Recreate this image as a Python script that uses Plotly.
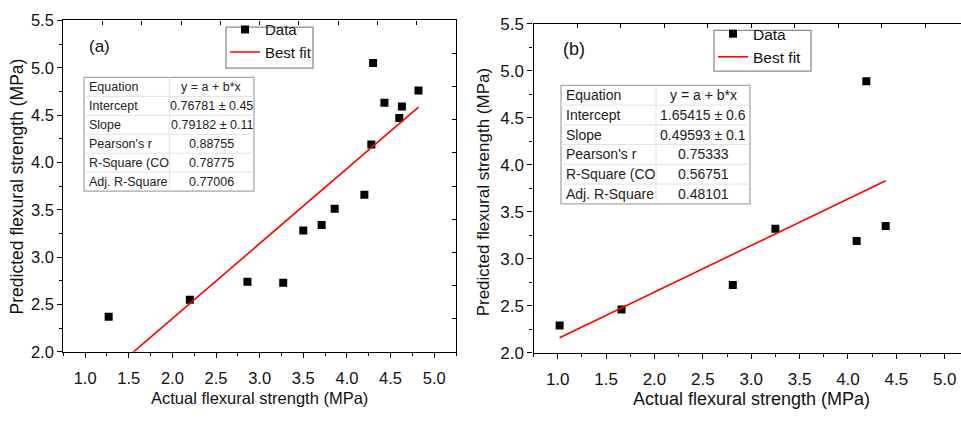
import plotly.graph_objects as go

# ---- data: panel (a) ----
actual_a = [1.27, 2.20, 2.86, 3.27, 3.50, 3.71, 3.86, 4.20, 4.28, 4.30, 4.43, 4.60, 4.63, 4.82]
pred_a = [2.37, 2.55, 2.74, 2.73, 3.28, 3.34, 3.51, 3.66, 4.19, 5.05, 4.63, 4.47, 4.59, 4.76]

# ---- data: panel (b) ----
actual_b = [1.02, 1.66, 2.81, 3.25, 4.09, 4.19, 4.39]
pred_b = [2.29, 2.46, 2.72, 3.32, 3.19, 4.89, 3.35]

# ---- linear fit statistics (y = a + b*x) ----
fit_rows = ["Equation", "Intercept", "Slope", "Pearson's r", "R-Square (CO", "Adj. R-Square"]
intercept_a, intercept_err_a = 0.76781, 0.45
slope_a, slope_err_a = 0.79182, 0.11
pearson_a, rsq_a, adj_rsq_a = 0.88755, 0.78775, 0.77006
intercept_b, intercept_err_b = 1.65415, 0.6
slope_b, slope_err_b = 0.49593, 0.1
pearson_b, rsq_b, adj_rsq_b = 0.75333, 0.56751, 0.48101

x_ticks = [1.0, 1.5, 2.0, 2.5, 3.0, 3.5, 4.0, 4.5, 5.0]
y_ticks = [2.0, 2.5, 3.0, 3.5, 4.0, 4.5, 5.0, 5.5]

W, H = 961, 421
FONT = "Liberation Sans, Arial, sans-serif"


def fx(p):
    return p / W


def fy(p):
    return 1 - p / H


def fit_values(a, ea, b, eb, r, r2, ar2):
    return ["y = a + b*x", f"{a:.5f} \u00b1 {ea:g}", f"{b:.5f} \u00b1 {eb:g}",
            f"{r:.5f}", f"{r2:.5f}", f"{ar2:.5f}"]


def fit_line(xs, a, b):
    x0, x1 = min(xs), max(xs)
    return [x0, x1], [a + b * x0, a + b * x1]


fig = go.Figure()

# panel (a) traces
fig.add_trace(go.Scatter(x=actual_a, y=pred_a, mode="markers", name="Data",
                         marker=dict(symbol="square", size=8, color="black"),
                         xaxis="x", yaxis="y", legend="legend"))
lx, ly = fit_line(actual_a, intercept_a, slope_a)
fig.add_trace(go.Scatter(x=lx, y=ly, mode="lines", name="Best fit",
                         line=dict(color="#ff0000", width=1.6),
                         xaxis="x", yaxis="y", legend="legend"))

# panel (b) traces
fig.add_trace(go.Scatter(x=actual_b, y=pred_b, mode="markers", name="Data",
                         marker=dict(symbol="square", size=8, color="black"),
                         xaxis="x2", yaxis="y2", legend="legend2"))
lx, ly = fit_line(actual_b, intercept_b, slope_b)
fig.add_trace(go.Scatter(x=lx, y=ly, mode="lines", name="Best fit",
                         line=dict(color="#ff0000", width=1.6),
                         xaxis="x2", yaxis="y2", legend="legend2"))

# empty traces so the frame axes (top / right) get drawn
for xa, ya in [("x3", "y"), ("x", "y3"), ("x4", "y2")]:
    fig.add_trace(go.Scatter(x=[], y=[], xaxis=xa, yaxis=ya, showlegend=False,
                             hoverinfo="skip"))

dom_a_x = [fx(63.3), fx(456)]
dom_a_y = [fy(359), fy(12)]
dom_b_x = [fx(533.5), 1.0]
dom_b_y = [fy(360), fy(15.7)]

x_full = [0.75, 5.25]
x_b_end = 0.75 + (W - 533.5) / 96.75
frame_b_end = 10 * (x_b_end - x_full[0]) / (x_full[1] - x_full[0])


def main_x(dom, rng, anchor, size):
    return dict(domain=dom, range=rng, anchor=anchor, tickvals=x_ticks,
                ticktext=[f"{v:.1f}" for v in x_ticks],
                ticks="outside", ticklen=5, tickwidth=1.2, tickcolor="black",
                ticklabelstandoff=6,
                minor=dict(ticks="outside", ticklen=3, tickwidth=1.2, tickcolor="black",
                           dtick=0.25, tick0=0),
                showline=True, linecolor="black", linewidth=1.3,
                showgrid=False, zeroline=False,
                tickfont=dict(family=FONT, size=size, color="#111"))


def main_y(dom, anchor, size):
    return dict(domain=dom, range=[2.0, 5.5], anchor=anchor, tickvals=y_ticks,
                ticktext=[f"{v:.1f}" for v in y_ticks],
                ticks="outside", ticklen=5, tickwidth=1.2, tickcolor="black",
                minor=dict(ticks="outside", ticklen=3, tickwidth=1.2, tickcolor="black",
                           dtick=0.25, tick0=0),
                showline=True, linecolor="black", linewidth=1.3,
                showgrid=False, zeroline=False,
                tickfont=dict(family=FONT, size=size, color="#111"))


def frame_axis(overlay, side, rng, anchor):
    return dict(overlaying=overlay, side=side, range=rng, anchor=anchor,
                tickvals=list(range(1, 10)), ticks="inside", ticklen=4,
                tickwidth=1.2, tickcolor="black", showticklabels=False,
                showline=True, linecolor="black", linewidth=1.3,
                showgrid=False, zeroline=False)


fig.update_layout(
    width=W, height=H,
    margin=dict(l=0, r=0, t=0, b=0),
    paper_bgcolor="white", plot_bgcolor="white",
    xaxis=main_x(dom_a_x, x_full, "y", 16.5),
    yaxis=main_y(dom_a_y, "x", 16.5),
    xaxis2=main_x(dom_b_x, [x_full[0], x_b_end], "y2", 17),
    yaxis2=main_y(dom_b_y, "x2", 17),
    xaxis3=frame_axis("x", "top", [0, 10], "y"),
    yaxis3=frame_axis("y", "right", [0, 10], "x"),
    xaxis4=frame_axis("x2", "top", [0, frame_b_end], "y2"),
    legend=dict(x=fx(225), y=fy(4.5), xanchor="left", yanchor="top",
                bgcolor="rgba(0,0,0,0)", borderwidth=0,
                font=dict(family=FONT, size=15, color="#111"),
                tracegroupgap=0),
    legend2=dict(x=fx(713), y=fy(8.5), xanchor="left", yanchor="top",
                 bgcolor="rgba(0,0,0,0)", borderwidth=0,
                 font=dict(family=FONT, size=15.5, color="#111"),
                 tracegroupgap=0),
    showlegend=True,
)

shapes = []
annotations = []

# legend frames
for l, r, t, b in [(226, 313, 19, 62), (714, 811, 22.3, 65)]:
    shapes.append(dict(type="rect", xref="paper", yref="paper",
                       x0=fx(l), x1=fx(r), y0=fy(b), y1=fy(t),
                       line=dict(color="#8c8c8c", width=1.3), fillcolor="white",
                       layer="above"))


def add_table(left, right, top, bottom, divider, values, size):
    n = len(fit_rows)
    rh = (bottom - top) / n
    shapes.append(dict(type="rect", xref="paper", yref="paper",
                       x0=fx(left), x1=fx(right), y0=fy(bottom), y1=fy(top),
                       line=dict(color="#a8a8a8", width=1.3), fillcolor="white",
                       layer="above"))
    for i in range(1, n):
        yy = fy(top + i * rh)
        shapes.append(dict(type="line", xref="paper", yref="paper",
                           x0=fx(left), x1=fx(right), y0=yy, y1=yy,
                           line=dict(color="#e2e2e2", width=1), layer="above"))
    shapes.append(dict(type="line", xref="paper", yref="paper",
                       x0=fx(divider), x1=fx(divider), y0=fy(bottom), y1=fy(top),
                       line=dict(color="#e2e2e2", width=1), layer="above"))
    for i, (lab, val) in enumerate(zip(fit_rows, values)):
        cy = fy(top + (i + 0.5) * rh)
        annotations.append(dict(xref="paper", yref="paper", x=fx(left + 2.5), y=cy,
                                xanchor="left", yanchor="middle", showarrow=False,
                                text=lab, font=dict(family=FONT, size=size, color="#222")))
        annotations.append(dict(xref="paper", yref="paper", x=fx((divider + right) / 2),
                                y=cy, xanchor="center", yanchor="middle",
                                showarrow=False, text=val,
                                font=dict(family=FONT, size=size, color="#222")))


add_table(84, 254, 71.7, 190.7, 169.3,
          fit_values(intercept_a, intercept_err_a, slope_a, slope_err_a,
                     pearson_a, rsq_a, adj_rsq_a), 12.5)
add_table(561, 750, 80, 204, 656,
          fit_values(intercept_b, intercept_err_b, slope_b, slope_err_b,
                     pearson_b, rsq_b, adj_rsq_b), 14)

# panel tags
annotations.append(dict(xref="paper", yref="paper", x=fx(99), y=fy(39), text="(a)",
                        showarrow=False, xanchor="center", yanchor="middle",
                        font=dict(family=FONT, size=17, color="#111")))
annotations.append(dict(xref="paper", yref="paper", x=fx(574), y=fy(41.7), text="(b)",
                        showarrow=False, xanchor="center", yanchor="middle",
                        font=dict(family=FONT, size=18, color="#111")))

# axis titles
x_title = "Actual flexural strength (MPa)"
y_title = "Predicted flexural strength (MPa)"
annotations.append(dict(xref="paper", yref="paper", x=fx(259.7), y=fy(407), text=x_title,
                        showarrow=False, xanchor="center", yanchor="middle",
                        font=dict(family=FONT, size=16.5, color="#111")))
annotations.append(dict(xref="paper", yref="paper", x=fx(751.7), y=fy(408), text=x_title,
                        showarrow=False, xanchor="center", yanchor="middle",
                        font=dict(family=FONT, size=18, color="#111")))
annotations.append(dict(xref="paper", yref="paper", x=fx(17), y=fy(185.8), text=y_title,
                        showarrow=False, xanchor="center", yanchor="middle", textangle=-90,
                        font=dict(family=FONT, size=17.5, color="#111")))
annotations.append(dict(xref="paper", yref="paper", x=fx(483.3), y=fy(191.7), text=y_title,
                        showarrow=False, xanchor="center", yanchor="middle", textangle=-90,
                        font=dict(family=FONT, size=17, color="#111")))

fig.update_layout(shapes=shapes, annotations=annotations)

fig.write_html("out.html")
